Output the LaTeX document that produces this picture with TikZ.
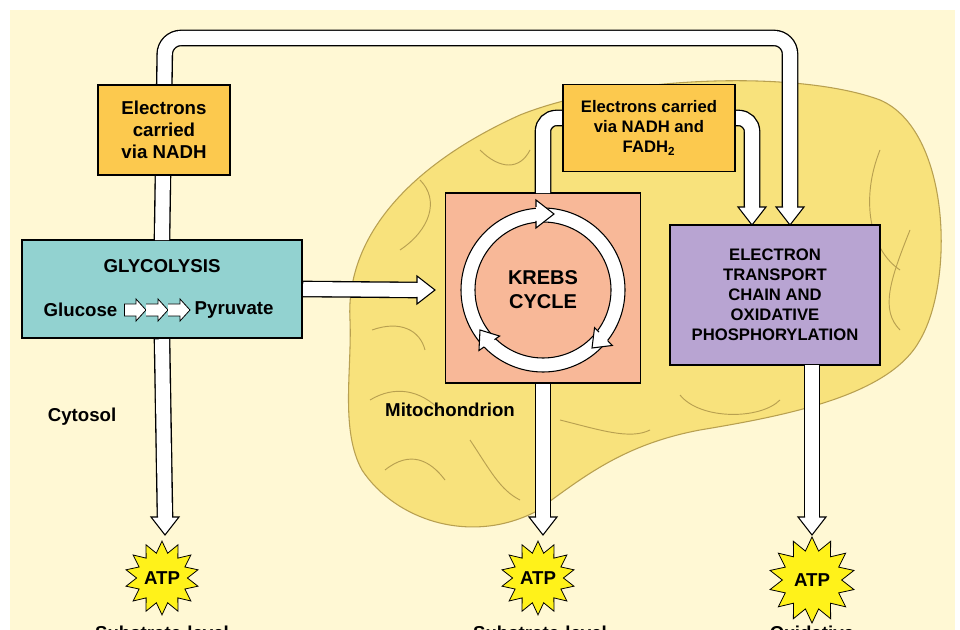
\documentclass[tikz,border=0pt]{standalone}
\usepackage{fontspec}
\setmainfont{Liberation Sans}
\usetikzlibrary{shapes.geometric}
\definecolor{bgc}{HTML}{FFF8D4}
\definecolor{mito}{HTML}{F8E27C}
\definecolor{crista}{HTML}{B8A050}
\definecolor{orangebox}{HTML}{FCC94E}
\definecolor{tealbox}{HTML}{92D2D0}
\definecolor{salmon}{HTML}{F8B898}
\definecolor{purplebox}{HTML}{B8A4D2}
\definecolor{atpy}{HTML}{FFF21A}
\begin{document}
\begin{tikzpicture}[x=0.75pt,y=-0.75pt,font=\bfseries,
  box/.style={draw=black,line width=0.8pt,align=center,inner sep=0pt},
  lbl/.style={font=\bfseries\fontsize{13}{15}\selectfont,align=center},
  atp/.style={star,star points=14,star point ratio=1.45,draw=black,fill=atpy,line width=0.6pt,inner sep=0pt,font=\bfseries\fontsize{14}{16}\selectfont},
  shaftO/.style={line width=12.5pt,draw=black},
  shaftI/.style={line width=10.5pt,draw=white},
  cr/.style={draw=crista,line width=0.7pt},
  downhead/.pic={\fill[white](-7,-18)--(-14,-18)--(0,0)--(14,-18)--(7,-18)--cycle;
     \draw[line width=0.8pt,line join=miter](-7,-18)--(-14,-18)--(0,0)--(14,-18)--(7,-18);},
  righthead/.pic={\fill[white](-18,-7)--(-18,-14)--(0,0)--(-18,14)--(-18,7)--cycle;
     \draw[line width=0.8pt](-18,-7)--(-18,-14)--(0,0)--(-18,14)--(-18,7);}
]
\useasboundingbox (0,0) rectangle (960,630);
\clip (0,0) rectangle (960,630);
\fill[white] (0,0) rectangle (960,630);
\fill[bgc] (10,10) rectangle (955,630);

% mitochondrion
\draw[fill=mito,draw=crista,line width=0.8pt]
  (350,320) .. controls (345,230) and (420,160) .. (520,115)
  .. controls (620,75) and (800,70) .. (880,100)
  .. controls (950,130) and (955,280) .. (920,340)
  .. controls (890,395) and (790,415) .. (700,430)
  .. controls (620,445) and (580,480) .. (535,512)
  .. controls (470,545) and (395,520) .. (362,470)
  .. controls (340,430) and (352,370) .. (350,320) -- cycle;
% cristae
\draw[cr] (400,250) .. controls (430,230) and (440,200) .. (420,180);
\draw[cr] (372,330) .. controls (400,320) and (420,330) .. (425,350);
\draw[cr] (370,400) .. controls (395,385) and (420,390) .. (440,410);
\draw[cr] (385,470) .. controls (410,450) and (430,460) .. (445,480);
\draw[cr] (470,440) .. controls (490,470) and (500,490) .. (520,500);
\draw[cr] (560,420) .. controls (600,430) and (630,440) .. (650,430);
\draw[cr] (680,395) .. controls (700,420) and (760,420) .. (780,400);
\draw[cr] (880,150) .. controls (860,200) and (870,250) .. (900,270);
\draw[cr] (910,230) .. controls (890,280) and (880,310) .. (900,330);
\draw[cr] (480,150) .. controls (500,170) and (520,170) .. (530,150);

% boxes
\node[box,fill=tealbox,minimum width=280pt*0.75,minimum height=98pt*0.75] (gly) at (162,289) {};
\node[lbl,font=\bfseries\fontsize{14}{16}\selectfont] at (162,266) {GLYCOLYSIS};
\node[lbl,anchor=east,font=\bfseries\fontsize{14}{16}\selectfont] (glc) at (122,310) {Glucose};
\node[lbl,anchor=west,font=\bfseries\fontsize{14}{16}\selectfont] (pyr) at (190,310) {Pyruvate};
\node[box,fill=salmon,minimum width=195pt*0.75,minimum height=190pt*0.75] (krebs) at (543,288) {};
\node[box,fill=purplebox,minimum width=210pt*0.75,minimum height=140pt*0.75,font=\bfseries\fontsize{12.5}{15}\selectfont] (etc) at (775,295) {ELECTRON\\TRANSPORT\\CHAIN AND\\OXIDATIVE\\PHOSPHORYLATION};

% glucose small arrows
\foreach \x in {124,146,168}{
  \fill[white] (\x,304)--(\x+12,304)--(\x+12,299)--(\x+22,310)--(\x+12,321)--(\x+12,316)--(\x,316)--cycle;
  \draw[line width=0.6pt] (\x,304)--(\x+12,304)--(\x+12,299)--(\x+22,310)--(\x+12,321)--(\x+12,316)--(\x,316);}
\draw[line width=0.6pt] (124,304)--(124,316);

% Krebs ring
\fill[white,even odd rule] (543,290) circle (82pt*0.75) (543,290) circle (68pt*0.75);
\draw[line width=0.8pt] (543,290) circle (82pt*0.75) (543,290) circle (68pt*0.75);
\pic at (554,214) {righthead};
\pic[rotate=225,scale=0.9] at (592,348) {righthead};
\pic[rotate=125,scale=0.9] at (480,330) {righthead};
\node[lbl,font=\bfseries\fontsize{15}{18}\selectfont] at (543,290) {KREBS\\CYCLE};

% second electrons box arrows (behind box)
\coordinate (kt) at (krebs.north);
\draw[shaftO,rounded corners=10pt] (kt) -- (543,118) -- (752,118) -- (752,207);
\draw[shaftI,rounded corners=10pt] ([yshift=-0.5pt]kt) -- (543,118) -- (752,118) -- (752,208);
\pic at (752,225) {downhead};
\node[box,fill=orangebox,minimum width=172pt*0.75,minimum height=87pt*0.75,lbl,font=\bfseries\fontsize{12.5}{15}\selectfont] (e2) at (649,128) {Electrons carried\\via NADH and\\FADH\textsubscript{2}};

% big top loop
\draw[shaftO,rounded corners=12pt] (gly.north) -- (165,38) -- (790,38) -- (790,207);
\draw[shaftI,rounded corners=12pt] ([yshift=-0.5pt]gly.north) -- (165,38) -- (790,38) -- (790,208);
\pic at (790,225) {downhead};
\node[box,fill=orangebox,minimum width=132pt*0.75,minimum height=90pt*0.75,lbl,font=\bfseries\fontsize{14}{16.5}\selectfont] (e1) at (164,130) {Electrons\\carried\\via NADH};

% ATP
\node[atp,minimum size=64pt*0.75] (a1) at (162,578) {ATP};
\node[atp,minimum size=64pt*0.75] (a2) at (538,578) {ATP};
\node[atp,minimum size=86pt*0.75] (a3) at (812,580) {ATP};

% vertical arrows
\draw[shaftO] (gly.south) -- (165,517);
\draw[shaftI] ([yshift=-0.5pt]gly.south) -- (165,518);
\pic at (165,535) {downhead};
\draw[shaftO] (krebs.south) -- (543,517);
\draw[shaftI] ([yshift=-0.5pt]krebs.south) -- (543,518);
\pic at (543,535) {downhead};
\draw[shaftO] (812,365) -- (812,517);
\draw[shaftI] (812,365.5) -- (812,518);
\pic at (812,535) {downhead};

% glycolysis to krebs
\draw[shaftO] (gly.east) -- (417,290);
\draw[shaftI] ([xshift=0.5pt]gly.east) -- (418,290);
\pic at (435,290) {righthead};

\node[lbl,font=\bfseries\fontsize{14}{16}\selectfont] (cyt) at (82,417) {Cytosol};
\node[lbl,font=\bfseries\fontsize{14}{16}\selectfont] (mit) at (450,410) {Mitochondrion};
\node[lbl,font=\bfseries\fontsize{14}{16}\selectfont] at (162,633) {Substrate-level};
\node[lbl,font=\bfseries\fontsize{14}{16}\selectfont] at (540,633) {Substrate-level};
\node[lbl,font=\bfseries\fontsize{14}{16}\selectfont] at (812,633) {Oxidative};
\end{tikzpicture}
\end{document}
